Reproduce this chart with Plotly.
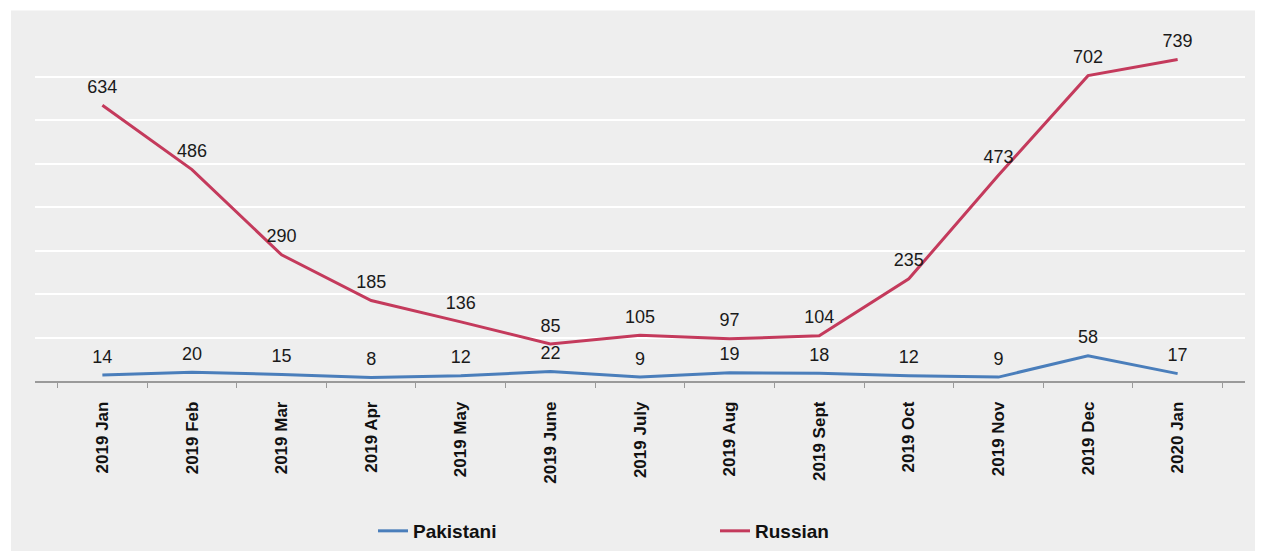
import plotly.graph_objects as go

months = ["2019 Jan", "2019 Feb", "2019 Mar", "2019 Apr", "2019 May", "2019 June",
          "2019 July", "2019 Aug", "2019 Sept", "2019 Oct", "2019 Nov", "2019 Dec", "2020 Jan"]
pakistani = [14, 20, 15, 8, 12, 22, 9, 19, 18, 12, 9, 58, 17]
russian = [634, 486, 290, 185, 136, 85, 105, 97, 104, 235, 473, 702, 739]

# vertical compensation: the capture appears ~2% taller than 551px
K = 1.02
W = 1268
H = round(551 * K)
L = 35
T = round(32 * K)
R = W - 1245
B = H - round(380 * K)
pw, ph = W - L - R, H - T - B

FONT = "Liberation Sans, Arial"

fig = go.Figure()
for name, vals, col in [("Pakistani", pakistani, "#4a7ebb"), ("Russian", russian, "#c43a5c")]:
    fig.add_trace(go.Scatter(
        x=months, y=vals, name=name, mode="lines+markers+text",
        line=dict(color=col, width=3),
        marker=dict(size=11, color="rgba(0,0,0,0)"),
        text=[str(v) for v in vals], textposition="top center",
        textfont=dict(family=FONT, size=18, color="#1a1a1a"),
    ))

fig.add_shape(type="rect", xref="paper", yref="paper", layer="below",
              x0=(11 - L) / pw, x1=(1255 - L) / pw,
              y0=-B / ph, y1=(T + ph - round(10 * K)) / ph,
              fillcolor="#eeeeee", line=dict(width=0))

fig.update_layout(
    width=W, height=H,
    margin=dict(l=L, r=R, t=T, b=B, pad=0),
    paper_bgcolor="white",
    plot_bgcolor="rgba(0,0,0,0)",
    font=dict(family=FONT, color="#111111"),
    showlegend=True,
    legend=dict(orientation="h", x=(373 - L) / pw, xanchor="left",
                y=-(round(530 * K) - T - ph) / ph, yanchor="middle",
                font=dict(size=19, family=FONT, color="#111111", weight="bold"),
                entrywidth=297, bgcolor="rgba(0,0,0,0)"),
    xaxis=dict(
        type="category", tickangle=-90, showgrid=False,
        showline=True, linecolor="#9a9a9a", linewidth=1.5,
        ticks="outside", ticklen=5, tickcolor="#9a9a9a", tickson="boundaries",
        ticklabelstandoff=12,
        tickfont=dict(size=17, family=FONT, color="#111111", weight="bold"),
    ),
    yaxis=dict(
        range=[0, 800], dtick=100, showticklabels=False, showgrid=True,
        gridcolor="white", gridwidth=2, zeroline=False, showline=False,
    ),
)

post = (
    "document.documentElement.style.cssText='margin:0;padding:0;overflow:hidden;height:%dpx;';"
    "document.body.style.cssText='margin:0;padding:0;overflow:hidden;height:%dpx;';"
    "var d=document.getElementById('{plot_id}');"
    "d.style.position='fixed';d.style.top='0px';d.style.left='0px';"
) % (H, H)

fig.write_html("out.html", config={"displayModeBar": False}, post_script=post)
